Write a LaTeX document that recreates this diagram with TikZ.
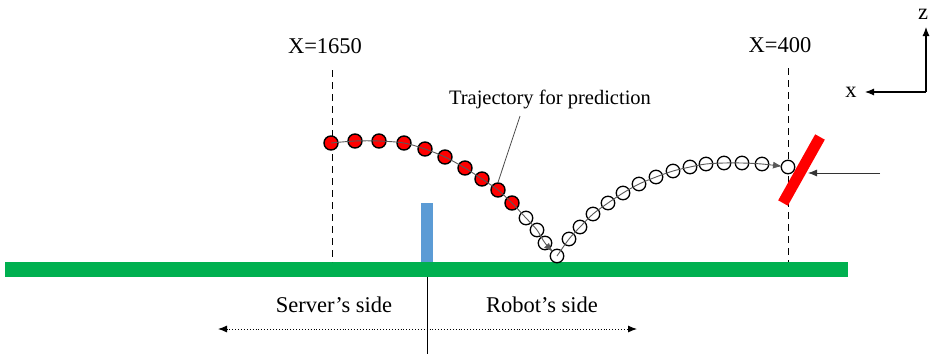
\documentclass[tikz,border=0pt]{standalone}
\usepackage{fontspec}
\setmainfont{Liberation Serif}
\usetikzlibrary{arrows.meta}
\definecolor{tablegreen}{RGB}{0,176,80}
\definecolor{netblue}{RGB}{91,155,213}
\definecolor{paddlered}{RGB}{255,0,0}
\begin{document}
\begin{tikzpicture}[x=1pt,y=-1pt,
  redball/.style={circle,draw=black,line width=1.4pt,fill=paddlered,minimum size=14pt,inner sep=0pt},
  openball/.style={circle,draw=black,fill=white,line width=1.3pt,minimum size=13.5pt,inner sep=0pt},
  guide/.style={dash pattern=on 7pt off 5pt, line width=0.8pt},
  lbl/.style={font=\fontsize{22.5}{24}\selectfont, inner sep=0pt},
  smalllbl/.style={font=\fontsize{20.5}{22}\selectfont, inner sep=0pt},
  trackline/.style={line width=0.9pt, black!65},
  tip/.style={-{Latex[length=9pt,width=7pt]}}
]
\useasboundingbox (0,0) rectangle (930,354);

% table, net, centre line
\fill[tablegreen] (5,262) rectangle (848,277);
\fill[netblue] (421,203) rectangle (433,262);
\coordinate (ctop) at (427,277);
\coordinate (cbot) at (427,354);
\draw[line width=0.9pt] (ctop) -- (cbot);

% guide lines and labels
\node[lbl] (x1650) at (325,46) {X=1650};
\node[lbl] (x400) at (780,45) {X=400};
\coordinate (g1t) at (332,70); \coordinate (g1b) at (332,262);
\coordinate (g2t) at (788,68); \coordinate (g2b) at (788,262);
\draw[guide] (g1t) -- (g1b);
\draw[guide] (g2t) -- (g2b);

% paddle and incoming arrow
\coordinate (pa) at (820,137); \coordinate (pb) at (783,203);
\draw[paddlered, line width=11pt] (pa) -- (pb);
\coordinate (inA) at (880,173); \coordinate (inB) at (808,173);
\draw[line width=0.8pt, black!80, tip] (inA) -- (inB);

% balls
\foreach \p [count=\i] in {(331,143),(355,141),(379,141),(404,143),(425,149),(445,157),(465,168),(482,179),(498,190),(512,203)}
  \node[redball] (r\i) at \p {};
\foreach \p [count=\i] in {(526,218),(537,230),(545,243),(557,256)}
  \node[openball] (d\i) at \p {};
\foreach \p [count=\i] in {(569,239),(580,227),(593,214),(608,203),(623,193),(639,184),(656,177),(673,171),(690,167),(706,164),(724,163),(742,163),(762,164),(788,167)}
  \node[openball] (u\i) at \p {};

% trajectory lines
\draw[trackline, tip, shorten >=6pt] plot[smooth, tension=0.5] coordinates {(r1.center) (r2.center) (r3.center) (r4.center) (r5.center) (r6.center) (r7.center) (r8.center) (r9.center) (r10.center) (d1.center) (d2.center) (d3.center) (d4.center)};
\draw[trackline, tip, shorten >=6pt] plot[smooth, tension=0.5] coordinates {(d4.center) (u1.center) (u2.center) (u3.center) (u4.center) (u5.center) (u6.center) (u7.center) (u8.center) (u9.center) (u10.center) (u11.center) (u12.center) (u13.center) (u14.center)};

% prediction label
\node[smalllbl] (traj) at (550,99) {Trajectory for prediction};
\coordinate (lead) at (520,116);
\draw[line width=0.8pt, black!70] (lead) -- (r9.north);

% axes
\coordinate (ax) at (926,92);
\coordinate (axz) at (926,27);
\coordinate (axx) at (865,92);
\node[lbl] (zl) at (923,14) {z};
\node[lbl] (xl) at (851,92) {x};
\draw[line width=1.1pt, tip] (ax) -- (axz);
\draw[line width=1.1pt, tip] (ax) -- (axx);

% sides
\node[lbl] (srv) at (334,305) {Server’s side};
\node[lbl] (rob) at (542,305) {Robot’s side};
\coordinate (dl) at (218,329); \coordinate (dr) at (637,329);
\draw[dotted, line width=0.9pt, {Latex[length=9pt,width=7pt]}-{Latex[length=9pt,width=7pt]}] (dl) -- (dr);
\end{tikzpicture}
\end{document}
